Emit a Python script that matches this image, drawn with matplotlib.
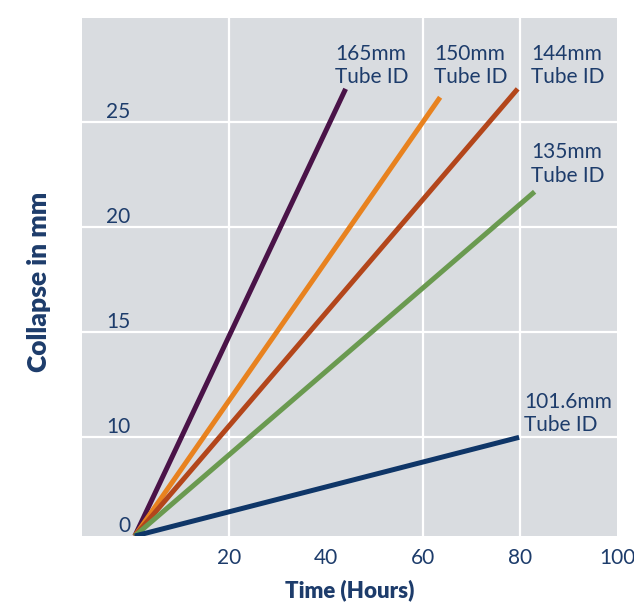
import numpy as np
import matplotlib.pyplot as plt

plt.rcParams['font.family'] = ['Lato', 'DejaVu Sans']

# tube collapse over time
labels = ['165mm\nTube ID', '150mm\nTube ID', '144mm\nTube ID', '135mm\nTube ID', '101.6mm\nTube ID']
t_start = [0.5, 0.5, 0.5, 0.5, 0.5]
t_end = [44.0, 63.5, 79.5, 83.0, 79.8]
c_start = [0, 0, 0, 0, 0]
c_end = [26.6, 26.2, 26.6, 21.7, 10.0]
colors = ['#4a1348', '#e8821f', '#b3461b', '#6a9a50', '#0f3668']

xticks = [20, 40, 60, 80, 100]
yticks = [0, 10, 15, 20, 25]
xgrid = [20, 60, 80]
ygrid = [10, 15, 20, 25]

# label spots in axes fraction
lab_pos = [(0.473, 0.949), (0.658, 0.949), (0.839, 0.949), (0.839, 0.759), (0.826, 0.278)]

navy = '#1d3c6b'
bg = '#d9dce0'

# 0-10 squeezed into about one grid step like the original
def fwd(y):
    y = np.asarray(y, dtype=float)
    return np.where(y <= 10, y * 0.094, 0.94 + (y - 10) / 5)

def inv(u):
    u = np.asarray(u, dtype=float)
    return np.where(u <= 0.94, u / 0.094, 10 + (u - 0.94) * 5)

fig = plt.figure(figsize=(6.34, 6.04), dpi=100)
ax = fig.add_axes([82/634, 68/604, 535/634, 518.5/604])
ax.set_facecolor(bg)
ax.set_yscale('function', functions=(fwd, inv))
ax.set_xlim(-10.4, 99.9)
ax.set_ylim(0, 30)

for x in xgrid:
    ax.axvline(x, color='white', lw=1.6, zorder=1)
for y in ygrid:
    ax.axhline(y, color='white', lw=1.6, zorder=1)

for i in range(len(labels)):
    ax.plot([t_start[i], t_end[i]], [c_start[i], c_end[i]], color=colors[i],
            lw=3.6, solid_capstyle='butt', zorder=3)
    ax.text(lab_pos[i][0], lab_pos[i][1], labels[i], transform=ax.transAxes,
            ha='left', va='top', fontsize=15, color=navy, linespacing=1.2)

for s in ax.spines.values():
    s.set_visible(False)

ax.set_xticks(xticks)
ax.set_xticklabels([str(v) for v in xticks])
ax.set_yticks(yticks)
ax.set_yticklabels([str(v) for v in yticks])
ax.tick_params(axis='x', length=0, pad=9, labelsize=15, labelcolor=navy)
ax.tick_params(axis='y', length=0, pad=-35, labelsize=15, labelcolor=navy)
for lab in ax.get_yticklabels():
    lab.set_va('bottom')

ax.set_xlabel('Time (Hours)', fontsize=16, fontweight='heavy', color=navy, labelpad=8)
ax.set_ylabel('Collapse in mm', fontsize=19, fontweight='heavy', color=navy, labelpad=0)
ax.yaxis.set_label_coords(-0.058, 0.49)

fig.savefig('out.png', dpi=100)
